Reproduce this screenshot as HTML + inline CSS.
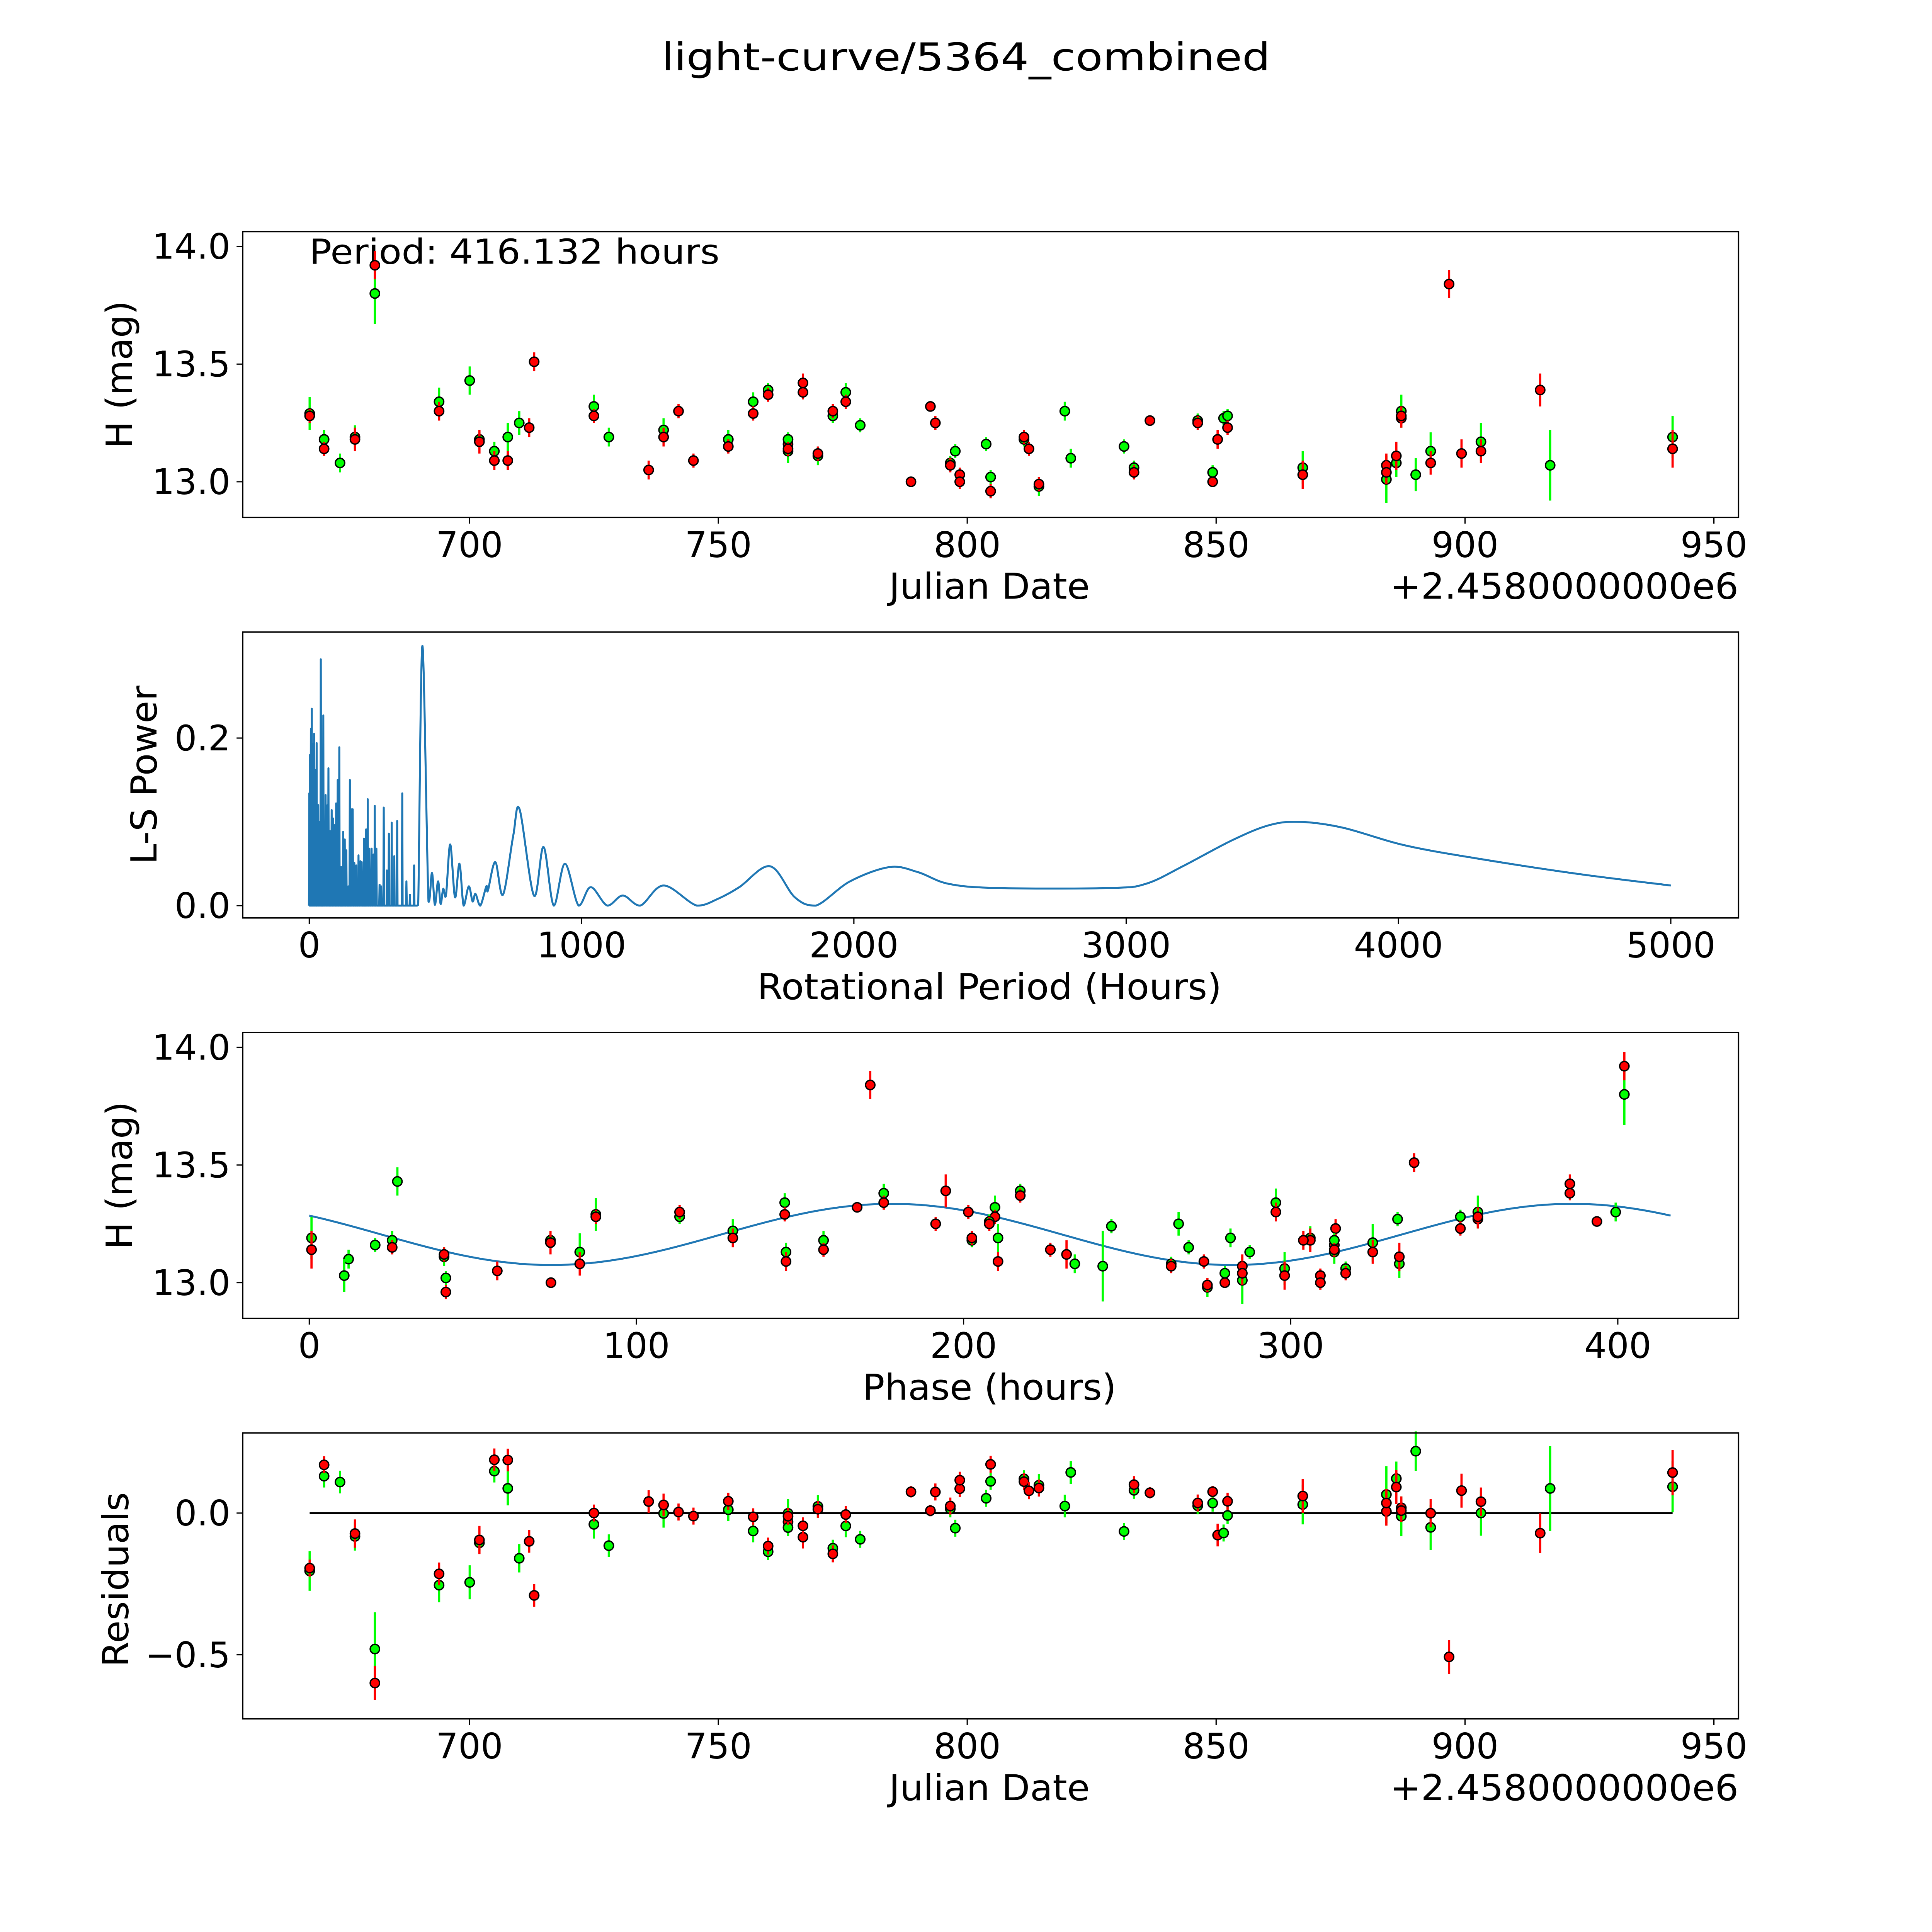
<!DOCTYPE html>
<html><head><meta charset="utf-8"><style>
html,body{margin:0;padding:0;background:#fff;overflow:hidden;width:100vw;height:100vh}
svg{display:block;width:100vw;height:100vh}
text{font-family:"DejaVu Sans","Liberation Sans",sans-serif;fill:#000}
</style></head><body>
<svg id="fig" xmlns="http://www.w3.org/2000/svg" viewBox="0 0 1568 1568" preserveAspectRatio="xMidYMid meet">
<rect x="0" y="0" width="1568" height="1568" fill="#fff"/>
<text x="784" y="57" font-size="31" text-anchor="middle" textLength="494" lengthAdjust="spacingAndGlyphs">light-curve/5364_combined</text>
</svg>
<script>
// ---- observation data ----
const obsDates = [667.9,670.8,674.0,677.0,681.0,693.9,700.05,702.0,705.0,707.7,710.0,712.0,713.0,725.0,728.0,736.0,739.0,742.0,745.0,752.0,757.0,760.0,764.0,764.0,767.0,767.0,770.0,773.0,775.6,778.5,788.7,792.6,793.6,796.6,797.6,798.5,798.5,803.8,804.7,811.4,812.4,814.4,819.6,820.8,831.5,833.5,836.7,846.3,849.3,850.3,851.5,852.3,867.4,884.2,884.2,886.2,887.2,887.2,890.1,893.1,896.8,899.3,903.2,915.1,917.1,941.7];
const redMag = [13.28,13.14,null,13.18,13.92,13.30,null,13.17,13.09,13.09,null,13.23,13.51,13.28,null,13.05,13.19,13.30,13.09,13.15,13.29,13.37,13.16,13.14,13.42,13.38,13.12,13.30,13.34,null,13.00,13.32,13.25,13.07,null,13.03,13.00,null,12.96,13.19,13.14,12.99,null,null,null,13.04,13.26,13.25,13.00,13.18,null,13.23,13.03,13.07,13.04,13.11,13.27,13.28,null,13.08,13.84,13.12,13.13,13.39,null,13.14];
const redErr = [0.03,0.03,0,0.05,0.06,0.04,0,0.05,0.04,0.04,0,0.04,0.04,0.03,0,0.04,0.04,0.03,0.03,0.03,0.03,0.03,0.03,0.03,0.04,0.03,0.03,0.03,0.03,0,0.02,0.02,0.03,0.03,0,0.03,0.03,0,0.03,0.03,0.03,0.03,0,0,0,0.03,0.02,0.03,0.02,0.04,0,0.03,0.06,0.05,0.05,0.06,0.04,0.04,0,0.05,0.06,0.06,0.05,0.07,0,0.08];
const greenMag = [13.29,13.18,13.08,13.19,13.80,13.34,13.43,13.18,13.13,13.19,13.25,null,null,13.32,13.19,null,13.22,null,null,13.18,13.34,13.39,13.13,13.18,null,null,13.11,13.28,13.38,13.24,null,null,null,13.08,13.13,null,null,13.16,13.02,13.18,null,12.98,13.30,13.10,13.15,13.06,null,13.26,13.04,null,13.27,13.28,13.06,13.01,null,13.08,13.30,null,13.03,13.13,null,null,13.17,null,13.07,13.19];
const greenErr = [0.07,0.04,0.04,0.05,0.13,0.06,0.06,0.03,0.04,0.06,0.05,0,0,0.05,0.04,0,0.05,0,0,0.04,0.04,0.03,0.05,0.03,0,0,0.04,0.03,0.04,0.03,0,0,0,0.03,0.03,0,0,0.03,0.03,0.03,0,0.04,0.04,0.04,0.03,0.03,0,0.03,0.03,0,0.03,0.03,0.07,0.10,0,0.06,0.07,0,0.07,0.08,0,0,0.08,0,0.15,0.09];
// ---- fit parameters ----
const fitPeriod = 416.132;
const phaseEpoch = 664.25;
const modelMean = 13.205;
const modelAmp = 0.13;
const modelPeakPhase = 178;
// ---- periodogram data ----
const denseP = [0,3,5.9,9.4,12.9,15,17.6,20,22.3,25,27.0,30,32.9,38,42.3,46.9,49,51.6,55,59.9,64.6,67,70.4,76.3,82.2,88.0,92.7,98.6,104.5,110.3,117.4,124.4,130.3,136.1,143.2,149.1,153.8,159.6,165.5,172.5,180.8,187.8,192.5,200.7,208.9,214.8,220.7,228.9,235.9,240.6,246.5,258.2,264.1,273.5,285.2,292.3,302.8,312.2,322.8,341.5,356.8,369.7,385.0];
const densePow = [0.134,0.18,0.211,0.235,0.193,0.17,0.205,0.15,0.162,0.14,0.194,0.1,0.120,0.1,0.294,0.120,0.16,0.227,0.1,0.132,0.094,0.12,0.164,0.089,0.114,0.104,0.096,0.122,0.150,0.189,0.046,0.088,0.079,0.066,0.023,0.150,0.115,0.115,0.051,0.048,0.060,0.053,0.052,0.080,0.091,0.127,0.068,0.068,0.061,0.119,0.068,0.025,0.023,0.117,0.042,0.086,0.099,0.059,0.101,0.134,0.029,0.013,0.048];
const smoothP = [395,400.2,415.5,437.8,450.7,461.3,473.0,482.4,491.8,502.3,517.6,535.2,551.6,566.9,585.7,599.8,610.3,627.9,650.2,656.1,683.1,711.3,748.8,772.3,825.1,860.3,897.9,939.0,989.4,1034.0,1095.1,1151.4,1214.8,1301.6,1423.7,1500,1579,1692,1783,1860,1986,2131,2235,2348,2529,2937,3072,3208,3389,3525,3638,3796,4023,4294,4656,5000];
const smoothPow = [0.0,0.001,0.310,0.005,0.039,0.001,0.029,0.002,0.020,0.013,0.073,0.010,0.050,0.0,0.023,0.005,0.014,0.0,0.023,0.018,0.052,0.013,0.083,0.115,0.012,0.070,0.0,0.050,0.0,0.022,0.0,0.012,0.0,0.024,0.0,0.008,0.022,0.047,0.010,0.0,0.029,0.046,0.040,0.026,0.021,0.021,0.026,0.047,0.078,0.096,0.100,0.093,0.072,0.056,0.038,0.024];
// ---- tick labels ----
const dateTicks = [700,750,800,850,900,950];
const magTicks = [13.0,13.5,14.0];
const periodTicks = [0,1000,2000,3000,4000,5000];
const powerTicks = [0.0,0.2];
const phaseTicks = [0,100,200,300,400];
const residTicks = [0.0,-0.5];

const NS='http://www.w3.org/2000/svg';
const svg=document.getElementById('fig');
function mk(tag,attrs,parent){const e=document.createElementNS(NS,tag);for(const k in attrs)e.setAttribute(k,attrs[k]);(parent||svg).appendChild(e);return e;}

const xDate = d => 381 + (d-700)*4.04;
const yMag1 = m => 391 - (m-13)*191;
const xPer = p => 251 + p*0.221;
const yPow = v => 735 - v*680;
const xPh = p => 251 + p*2.655;
const yMag3 = m => 1041 - (m-13)*191;
const yRes = r => 1228 - r*230;
const model = ph => modelMean + modelAmp*Math.cos(4*Math.PI*(ph-modelPeakPhase)/fitPeriod);
const phaseOf = d => (((d-phaseEpoch)*24) % fitPeriod + fitPeriod) % fitPeriod;

const panels=[
 {name:'light-curve-panel',top:188},
 {name:'periodogram-panel',top:513},
 {name:'phase-panel',top:838},
 {name:'residuals-panel',top:1163}
];
const L=197,R=1411,H=232;
const groups=panels.map(p=>{
  const g=mk('g',{});
  
  
  return g;
});
function frame(g,top){
  const r=mk('rect',{x:L,y:top,width:R-L,height:H,fill:'none',stroke:'#000','stroke-width':1.1},g);
  
  
}
function xTicks(g,vals,fx,bottom,fmt){
  vals.forEach(v=>{
    const x=fx(v);
    mk('line',{x1:x,x2:x,y1:bottom,y2:bottom+5,stroke:'#000','stroke-width':1},g);
    const t=mk('text',{x:x,y:bottom+32,'font-size':28.5,'text-anchor':'middle'},g);
    t.textContent=fmt(v);
    
    
  });
}
function yTicks(g,vals,fy,fmt){
  vals.forEach(v=>{
    const y=fy(v);
    mk('line',{x1:L-5,x2:L,y1:y,y2:y,stroke:'#000','stroke-width':1},g);
    const t=mk('text',{x:L-10,y:y+10,'font-size':28.5,'text-anchor':'end'},g);
    t.textContent=fmt(v);
    
    
  });
}
function label(g,txt,x,y,rot,name,len){
  const t=mk('text',{x:x,y:y,'font-size':29,'text-anchor':'middle'},g);
  if(len){t.setAttribute('textLength',len);t.setAttribute('lengthAdjust','spacingAndGlyphs');}
  if(rot)t.setAttribute('transform','rotate(-90 '+x+' '+y+')');
  t.textContent=txt;
  
  
}
const f1=v=>v.toFixed(1).replace('-','\u2212');
function errPoint(g,x,y,yErrTop,yErrBot,color){
  const l=mk('line',{x1:x,x2:x,y1:yErrTop,y2:yErrBot,stroke:color,'stroke-width':1.8},g);
  
  
  const c=mk('circle',{cx:x,cy:y,r:3.8,fill:color,stroke:'#000','stroke-width':1.1},g);
  
  
}
function offText(g,y){
  const off=mk('text',{x:1411,y:y,'font-size':29,'text-anchor':'end',textLength:283,lengthAdjust:'spacingAndGlyphs'},g);
  off.textContent='+2.4580000000e6';
  
  
}

// ---- Panel 1 ----
(function(){
  const g=groups[0];
  xTicks(g,dateTicks,xDate,420,v=>String(v));
  yTicks(g,magTicks,yMag1,f1);
  label(g,'Julian Date',803,486,false,'x-axis-title',163);
  label(g,'H (mag)',107,304,true,'y-axis-title',120);
  offText(g,486);
  const per=mk('text',{x:251,y:214,'font-size':28,textLength:333,lengthAdjust:'spacingAndGlyphs'},g);
  per.textContent='Period: 416.132 hours';
  
  
  obsDates.forEach((d,i)=>{
    const x=xDate(d);
    if(greenMag[i]!==null) errPoint(g,x,yMag1(greenMag[i]),yMag1(greenMag[i]+greenErr[i]),yMag1(greenMag[i]-greenErr[i]),'#00ff00');
    if(redMag[i]!==null) errPoint(g,x,yMag1(redMag[i]),yMag1(redMag[i]+redErr[i]),yMag1(redMag[i]-redErr[i]),'#ff0000');
  });
  frame(g,188);
})();

// ---- Panel 2 ----
(function(){
  const g=groups[1];
  xTicks(g,periodTicks,xPer,745,v=>String(v));
  yTicks(g,powerTicks,yPow,f1);
  label(g,'Rotational Period (Hours)',803,811,false,'x-axis-title',377);
  label(g,'L-S Power',127,629,true,'y-axis-title',145);
  let pts=[];
  denseP.forEach((p,i)=>{
    pts.push([xPer(p)-0.3,yPow(0)]);
    pts.push([xPer(p),yPow(densePow[i])]);
    pts.push([xPer(p)+0.3,yPow(0)]);
  });
  smoothP.forEach((p,i)=>pts.push([xPer(p),yPow(smoothPow[i])]));
  let d='M'+pts[0][0].toFixed(2)+' '+pts[0][1].toFixed(2);
  const nd=denseP.length*3;
  for(let i=1;i<nd;i++) d+=' L'+pts[i][0].toFixed(2)+' '+pts[i][1].toFixed(2);
  for(let i=nd;i<pts.length;i++){
    const p0=pts[Math.max(i-2,nd-1)],p1=pts[i-1],p2=pts[i],p3=pts[Math.min(i+1,pts.length-1)];
    if(i===nd){d+=' L'+p2[0].toFixed(2)+' '+p2[1].toFixed(2);continue;}
    const c1=[p1[0]+(p2[0]-p0[0])/6,p1[1]+(p2[1]-p0[1])/6];
    const c2=[p2[0]-(p3[0]-p1[0])/6,p2[1]-(p3[1]-p1[1])/6];
    d+=' C'+c1[0].toFixed(2)+' '+Math.min(c1[1],735).toFixed(2)+' '+c2[0].toFixed(2)+' '+Math.min(c2[1],735).toFixed(2)+' '+p2[0].toFixed(2)+' '+p2[1].toFixed(2);
  }
  const path=mk('path',{d:d,fill:'none',stroke:'#1f77b4','stroke-width':1.6,'stroke-linejoin':'round'},g);
  
  
  frame(g,513);
})();

// ---- Panel 3 ----
(function(){
  const g=groups[2];
  xTicks(g,phaseTicks,xPh,1070,v=>String(v));
  yTicks(g,magTicks,yMag3,f1);
  label(g,'Phase (hours)',803,1136,false,'x-axis-title',206);
  label(g,'H (mag)',107,954,true,'y-axis-title',120);
  let d='';
  for(let k=0;k<=200;k++){const ph=fitPeriod*k/200;d+=(k?' L':'M')+xPh(ph).toFixed(2)+' '+yMag3(model(ph)).toFixed(2);}
  const c=mk('path',{d:d,fill:'none',stroke:'#1f77b4','stroke-width':1.6},g);
  
  
  obsDates.forEach((dd,i)=>{
    const x=xPh(phaseOf(dd));
    if(greenMag[i]!==null) errPoint(g,x,yMag3(greenMag[i]),yMag3(greenMag[i]+greenErr[i]),yMag3(greenMag[i]-greenErr[i]),'#00ff00');
    if(redMag[i]!==null) errPoint(g,x,yMag3(redMag[i]),yMag3(redMag[i]+redErr[i]),yMag3(redMag[i]-redErr[i]),'#ff0000');
  });
  frame(g,838);
})();

// ---- Panel 4 ----
(function(){
  const g=groups[3];
  xTicks(g,dateTicks,xDate,1395,v=>String(v));
  yTicks(g,residTicks,yRes,f1);
  label(g,'Julian Date',803,1461,false,'x-axis-title',163);
  label(g,'Residuals',104,1282,true,'y-axis-title',142);
  offText(g,1461);
  const z=mk('line',{x1:xDate(obsDates[0]),x2:xDate(obsDates[obsDates.length-1]),y1:yRes(0),y2:yRes(0),stroke:'#000','stroke-width':1.6},g);
  
  
  obsDates.forEach((dd,i)=>{
    const x=xDate(dd), m=model(phaseOf(dd));
    if(greenMag[i]!==null){const r=m-greenMag[i];errPoint(g,x,yRes(r),yRes(r+greenErr[i]),yRes(r-greenErr[i]),'#00ff00');}
    if(redMag[i]!==null){const r=m-redMag[i];errPoint(g,x,yRes(r),yRes(r+redErr[i]),yRes(r-redErr[i]),'#ff0000');}
  });
  frame(g,1163);
})();
</script>
</body></html>
